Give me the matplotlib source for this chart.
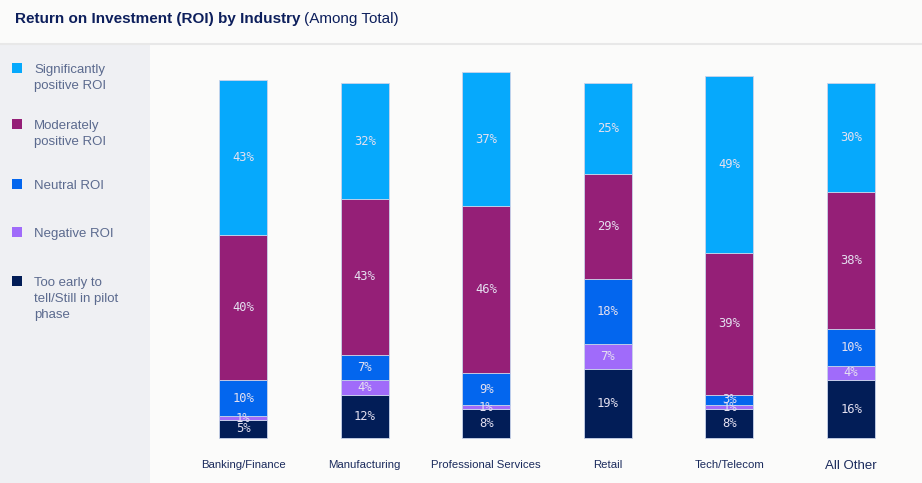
import numpy as np
import matplotlib.pyplot as plt
from matplotlib.patches import Rectangle

# Data (percent)
industries = ['Banking/Finance', 'Manufacturing', 'Professional Services',
              'Retail', 'Tech/Telecom', 'All Other']
too_early = [5, 12, 8, 19, 8, 16]
negative = [1, 4, 1, 7, 1, 4]
neutral = [10, 7, 9, 18, 3, 10]
moderate = [40, 43, 46, 29, 39, 38]
significant = [43, 32, 37, 25, 49, 30]

series = [too_early, negative, neutral, moderate, significant]
colors = ['#021d57', '#a06bfa', '#0366ee', '#951f77', '#06a9fc']
legend_labels = ['Significantly\npositive ROI', 'Moderately\npositive ROI',
                 'Neutral ROI', 'Negative ROI',
                 'Too early to\ntell/Still in pilot\nphase']
legend_colors = ['#06a9fc', '#951f77', '#0366ee', '#a06bfa', '#021d57']

W, H = 922, 483
fig = plt.figure(figsize=(W / 100, H / 100), dpi=100)
fig.patch.set_facecolor('#fbfbfa')

# left legend panel + title separator
fig.patches.append(Rectangle((0, 0), 150 / W, 1 - 45 / H, transform=fig.transFigure,
                             facecolor='#eff0f3', edgecolor='none', zorder=0))
fig.lines.append(plt.Line2D([0, 1], [1 - 44 / H, 1 - 44 / H], transform=fig.transFigure,
                            color='#e8e8e8', lw=1.5))

# title
t = fig.text(15 / W, 1 - 19 / H, 'Return on Investment (ROI) by Industry', fontsize=11,
             fontweight='bold', color='#0d1f5c', va='center', family='Liberation Sans')
fig.canvas.draw()
bb = t.get_window_extent()
fig.text(bb.x1 / W + 4 / W, 1 - 19 / H, '(Among Total)', fontsize=11, color='#0d1f5c',
         va='center', family='Liberation Sans')

# legend
leg_y = [62, 118, 178, 226, 275]
for lab, c, y in zip(legend_labels, legend_colors, leg_y):
    fig.patches.append(Rectangle((12 / W, 1 - (y + 11) / H), 10 / W, 10 / H,
                                 transform=fig.transFigure, facecolor=c, edgecolor='none'))
    fig.text(34 / W, 1 - (y + 2) / H, lab, fontsize=9.5, color='#5b6a8e', va='top',
             linespacing=1.45, family='Liberation Sans')

# bars
ax = fig.add_axes([150 / W, 45 / H, 772 / W, 362 / H])
ax.set_facecolor('none')
x = np.arange(len(industries))
bottom = np.zeros(len(industries))
for vals, c in zip(series, colors):
    vals = np.array(vals)
    ax.bar(x, vals, 0.395, bottom=bottom, color=c, edgecolor='#c9d3ea',
           linewidth=0.6, clip_on=False)
    for xi, v, b in zip(x, vals, bottom):
        ax.text(xi, b + v / 2, f'{v}%', ha='center', va='center', fontsize=8.7,
                color='#e4e0f0', family='DejaVu Sans Mono')
    bottom += vals

ax.set_xlim(-0.765, 5.584)
ax.set_ylim(0, 100)
ax.set_yticks([])
ax.set_xticks(x)
ax.set_xticklabels(industries, fontsize=8.2, color='#1a2a5c', family='Liberation Sans')
ax.get_xticklabels()[-1].set_fontsize(9.5)
ax.tick_params(axis='x', length=0, pad=16)
for s in ax.spines.values():
    s.set_visible(False)

fig.savefig('out.png', dpi=100, facecolor=fig.get_facecolor())
